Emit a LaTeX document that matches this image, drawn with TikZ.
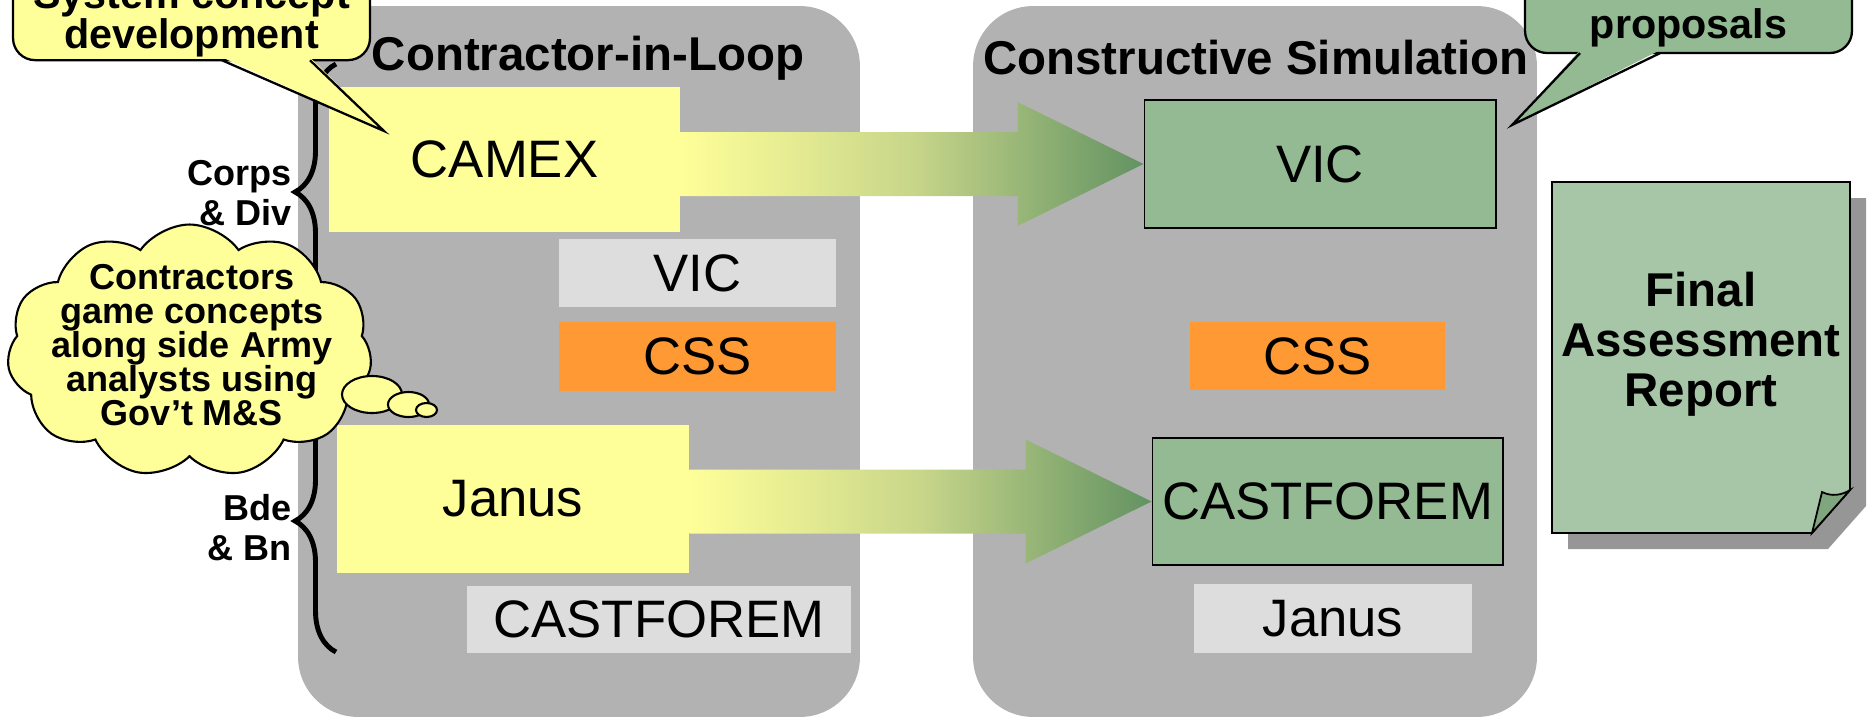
\documentclass[tikz,border=0pt]{standalone}
\usepackage{fontspec}
\setmainfont{Liberation Sans}
\usetikzlibrary{shapes.symbols,decorations.pathreplacing,calc}

\definecolor{panelgray}{RGB}{178,178,178}
\definecolor{camyellow}{RGB}{255,255,153}
\definecolor{litegray}{RGB}{221,221,221}
\definecolor{cssorange}{RGB}{255,153,51}
\definecolor{simgreen}{RGB}{147,186,147}
\definecolor{rptgreen}{RGB}{167,198,167}
\definecolor{foldgreen}{RGB}{128,166,128}
\definecolor{shadowgray}{RGB}{150,150,150}
\definecolor{midgreen}{RGB}{200,214,138}
\definecolor{tipgreen}{RGB}{98,146,98}

% block arrow from one model box to the other
\newcommand{\flowarrow}[2]{%
  \shade[flowshade] ($(#1.east |- #2.west)+(0,-32)$) -- ($(#2.west)+(-126,-32)$)
    -- ($(#2.west)+(-126,-62)$) -- (#2.west) -- ($(#2.west)+(-126,62)$)
    -- ($(#2.west)+(-126,32)$) -- ($(#1.east |- #2.west)+(0,32)$) -- cycle;}

\begin{document}
\begin{tikzpicture}[x=0.02cm,y=-0.02cm,
  panel/.style={fill=panelgray,rounded corners=1.2cm,inner sep=0pt,minimum height=14.22cm},
  paneltitle/.style={font=\bfseries\fontsize{27}{32}\selectfont,inner sep=0pt},
  model/.style={inner sep=0pt,font=\fontsize{30}{36}\selectfont},
  flowshade/.style={left color=camyellow,right color=tipgreen,middle color=midgreen},
  levelbrace/.style={decorate,decoration={brace,amplitude=0.82cm},line width=2.8pt},
  echelon/.style={font=\bfseries\fontsize{20.5}{22.8}\selectfont,align=right,inner sep=0pt},
  thought/.style={draw,fill=camyellow,line width=1.2pt},
  callnote/.style={draw,line width=1.3pt,rounded corners=0.44cm,inner sep=0pt,
    font=\bfseries\fontsize{23.5}{22.8}\selectfont,align=center},
  rpt/.style={font=\bfseries\fontsize{27}{28.5}\selectfont,align=center,inner sep=0pt}]
\useasboundingbox (0,0) rectangle (1868,720);
\clip (0,0) rectangle (1868,720);

% the two stages
\node[panel,minimum width=11.24cm] (cil) at (579,361.5) {};
\node[panel,minimum width=11.28cm] (cs) at (1255,361.5) {};
\node[paneltitle] (cilt) at (588,58) {Contractor-in-Loop};
\node[paneltitle] (cst) at (1256,58) {Constructive Simulation};

% contractor-in-loop models
\node[model,fill=camyellow,minimum width=7.02cm,minimum height=2.9cm] (camex) at (504.5,159.5) {CAMEX};
\node[model,fill=litegray,minimum width=5.54cm,minimum height=1.36cm] (vicl) at (697.5,273) {VIC};
\node[model,fill=cssorange,minimum width=5.54cm,minimum height=1.38cm] (cssl) at (697.5,356.5) {CSS};
\node[model,fill=camyellow,minimum width=7.04cm,minimum height=2.96cm] (janusl) at (513,499) {Janus};
\node[model,fill=litegray,minimum width=7.68cm,minimum height=1.34cm] (castl) at (659,619.5) {CASTFOREM};

% constructive simulation models
\node[model,draw,line width=0.6pt,fill=simgreen,minimum width=7.04cm,minimum height=2.56cm] (vicr) at (1320,164) {VIC};
\node[model,fill=cssorange,minimum width=5.1cm,minimum height=1.36cm] (cssr) at (1317.5,356) {CSS};
\node[model,draw,line width=0.6pt,fill=simgreen,minimum width=7.02cm,minimum height=2.54cm] (castr) at (1327.5,501.5) {CASTFOREM};
\node[model,fill=litegray,minimum width=5.56cm,minimum height=1.38cm] (janusr) at (1333,618.5) {Janus};

\flowarrow{camex}{vicr}
\flowarrow{janusl}{castr}

% echelons
\draw[levelbrace] (336,320) -- (336,64);
\draw[levelbrace] (336,652) -- (336,390);
\node[echelon,anchor=east] (corps) at (292,193) {Corps\\\& Div};
\node[echelon,anchor=east] (bde) at (292,528) {Bde\\\& Bn};

% thought cloud
\node[cloud,draw,fill=camyellow,line width=1.2pt,cloud puffs=11,cloud puff arc=110,aspect=1.6,
  minimum width=7.3cm,minimum height=5.06cm] (cloud) at (189.5,351) {};
\draw[thought] (372,394.5) ellipse [x radius=30,y radius=18.5];
\draw[thought] (408.5,404.5) ellipse [x radius=20.5,y radius=12.5];
\draw[thought] (426.5,410) ellipse [x radius=10.5,y radius=7];
\node[font=\bfseries\fontsize{20.5}{19.4}\selectfont,align=center,inner sep=0pt] (cloudtxt) at (192,345)
  {Contractors\\game concepts\\along side Army\\analysts using\\Gov’t M\&S};

% final report
\fill[shadowgray] (1568,198) -- (1866,198) -- (1866,506) -- (1828,549) -- (1568,549) -- cycle;
\draw[fill=rptgreen,line width=1pt] (1552,182) -- (1850,182) -- (1850,490) -- (1812,533) -- (1552,533) -- cycle;
\draw[fill=foldgreen,line width=1pt] (1812,533) -- (1822,492) .. controls (1832,497) and (1842,495) .. (1850,490) -- cycle;
\node[rpt] (report) at (1701,344) {Final\\Assessment\\Report};

% callouts
\node[callnote,fill=camyellow,minimum width=7.14cm,minimum height=1.67cm] (concept) at (191.5,18.4) {System concept\\development};
\coordinate (concepttip) at (384,131);
\fill[camyellow] ($(concept.south)+(30.5,-4)$) -- (concepttip) -- ($(concept.south)+(118.5,-4)$) -- cycle;
\draw[line width=1.3pt] ($(concept.south)+(30.5,-1)$) -- (concepttip) -- ($(concept.south)+(118.5,-1)$);

\node[callnote,fill=simgreen,minimum width=6.54cm,text height=2cm,text depth=0.3cm,anchor=base] (proposals) at (1688.5,38) {proposals};
\coordinate (proposaltip) at (1512,125);
\fill[simgreen] ($(proposals.south)+(-108.5,-4)$) -- (proposaltip) -- ($(proposals.south)+(-28.5,-4)$) -- cycle;
\draw[line width=1.3pt] ($(proposals.south)+(-108.5,-1)$) -- (proposaltip) -- ($(proposals.south)+(-28.5,-1)$);
\end{tikzpicture}
\end{document}
